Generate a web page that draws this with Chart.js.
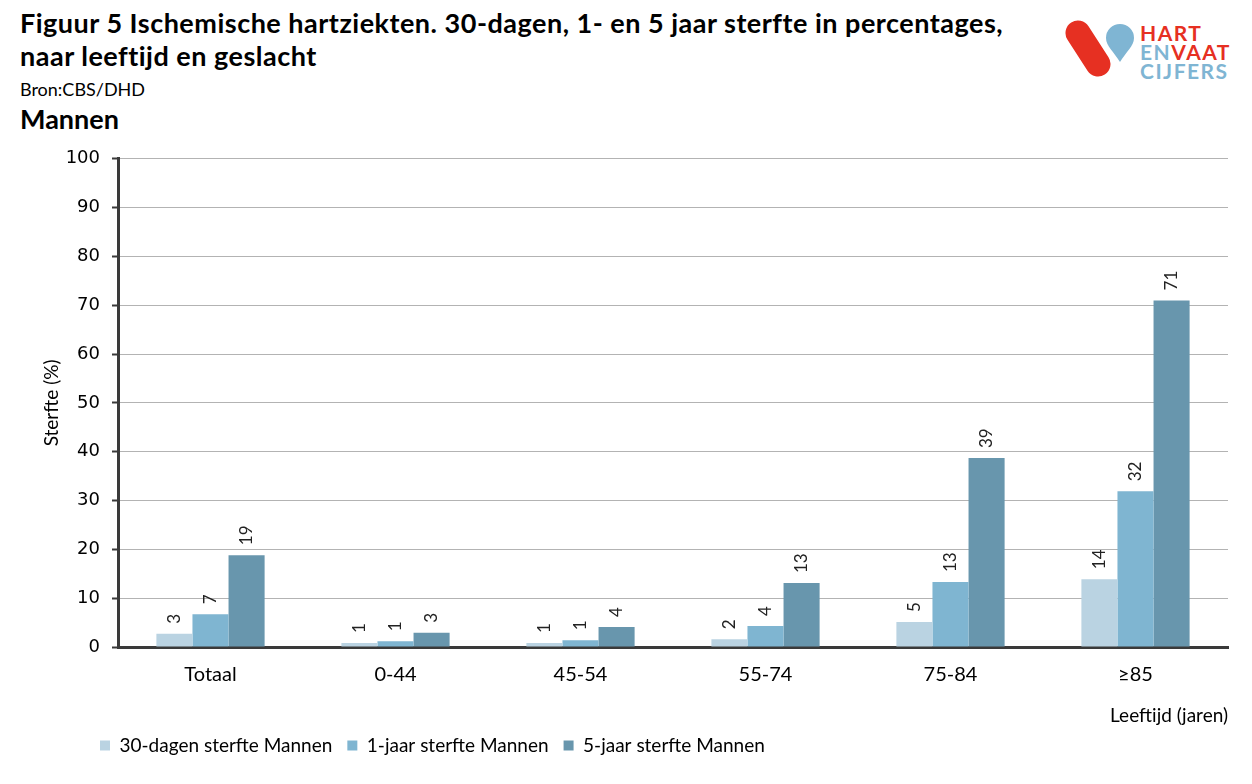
<!DOCTYPE html>
<html lang="nl">
<head>
<meta charset="utf-8">
<title>Ischemische hartziekten - sterfte mannen</title>
<script src="https://cdn.jsdelivr.net/npm/chart.js@4.4.1/dist/chart.umd.min.js"></script>
<style>
    body { margin: 0; width: 1252px; height: 784px; background: #fff; font-family: Lato, "Open Sans", sans-serif; color: #000; overflow: hidden; position: relative; }
    .titel { position: absolute; left: 20px; top: 6px; font-size: 27px; font-weight: 700; letter-spacing: 0.5px; line-height: 33px; white-space: nowrap; }
    .bron { position: absolute; left: 20px; top: 78px; font-size: 18px; }
    .sub { position: absolute; left: 20px; top: 102px; font-size: 27px; font-weight: 700; }
    .logo { position: absolute; left: 1064px; top: 18px; width: 188px; height: 62px; }
    .logo .woord { position: absolute; left: 76px; font-size: 21px; font-weight: 700; letter-spacing: 1.5px; line-height: 20px; }
    .rood { color: #e63022; }
    .blauw { color: #7fb5d3; }
    #grafiekWrap { position: absolute; left: 0; top: 136px; width: 1252px; height: 648px; }
</style>
</head>
<body>
<div class="titel">Figuur 5 Ischemische hartziekten. 30-dagen, 1- en 5 jaar sterfte in percentages,<br>naar leeftijd en geslacht</div>
<div class="bron">Bron:CBS/DHD</div>
<div class="sub">Mannen</div>

<div class="logo">
    <svg width="76" height="62" viewBox="0 0 76 62" style="position:absolute;left:0;top:0">
        <line x1="14" y1="15" x2="34" y2="46" stroke="#e63022" stroke-width="25" stroke-linecap="round"/>
        <path d="M56 44 C50 34 42 28 42 20 A14 14 0 0 1 70 20 C70 28 62 34 56 44 Z" fill="#7fb5d3"/>
    </svg>
    <div class="woord rood" style="top:5px">HART</div>
    <div class="woord" style="top:24px"><span class="blauw">EN</span><span class="rood">VAAT</span></div>
    <div class="woord blauw" style="top:43px">CIJFERS</div>
</div>

<div id="grafiekWrap"><canvas id="grafiek" width="1252" height="648"></canvas></div>

<script>
// Data
const categorieen = ['Totaal', '0-44', '45-54', '55-74', '75-84', '≥85'];
const dertigDagen = [2.7, 0.8, 0.8, 1.6, 5.1, 13.9];
const eenJaar = [6.7, 1.2, 1.4, 4.3, 13.3, 31.9];
const vijfJaar = [18.8, 2.9, 4.1, 13.1, 38.7, 71.0];
const reeksNamen = ['30-dagen sterfte Mannen', '1-jaar sterfte Mannen', '5-jaar sterfte Mannen'];
const yTicks = [0, 10, 20, 30, 40, 50, 60, 70, 80, 90, 100];

const kleuren = ['#bad3e2', '#7fb5d1', '#6896ad'];

// Waarden boven de staven, verticaal
const labelsPlugin = {
    id: 'staafLabels',
    afterDatasetsDraw(chart) {
        const ctx = chart.ctx;
        ctx.save();
        ctx.font = '17px Lato, sans-serif';
        ctx.fillStyle = '#222';
        ctx.textAlign = 'left';
        ctx.textBaseline = 'middle';
        chart.data.datasets.forEach((ds, i) => {
            const meta = chart.getDatasetMeta(i);
            meta.data.forEach((bar, j) => {
                const tekst = Math.round(ds.data[j]).toString();
                ctx.save();
                ctx.translate(bar.x, bar.y - 10);
                ctx.rotate(-Math.PI / 2);
                ctx.fillText(tekst, 0, 0);
                ctx.restore();
            });
        });
        ctx.restore();
    }
};

// Legenda naar rechts schuiven, zoals in het origineel
const legendaPlugin = {
    id: 'legendaVerschuiving',
    afterLayout(chart) {
        if (chart.legend) {
            chart.legend.left += 85;
            chart.legend.right += 85;
        }
    }
};

const datasets = [dertigDagen, eenJaar, vijfJaar].map((reeks, i) => ({
    label: reeksNamen[i],
    data: reeks,
    backgroundColor: kleuren[i],
    borderWidth: 0,
    categoryPercentage: 0.585,
    barPercentage: 1.0
}));

new Chart(document.getElementById('grafiek').getContext('2d'), {
    type: 'bar',
    data: { labels: categorieen, datasets: datasets },
    options: {
        responsive: false,
        animation: false,
        layout: { padding: { top: 14, right: 24, left: 0, bottom: 19 } },
        plugins: {
            legend: {
                position: 'bottom',
                align: 'start',
                labels: {
                    boxWidth: 10,
                    boxHeight: 10,
                    color: '#000',
                    font: { family: 'Lato, sans-serif', size: 19 },
                    padding: 15
                }
            },
            tooltip: { enabled: false }
        },
        scales: {
            x: {
                grid: {
                    offset: true,
                    drawOnChartArea: false,
                    drawTicks: false,
                    color: '#333'
                },
                border: { color: '#3a3a3a', width: 3 },
                ticks: {
                    color: '#000',
                    font: { family: 'Lato, sans-serif', size: 20 },
                    padding: 16
                },
                title: {
                    display: true,
                    text: 'Leeftijd (jaren)',
                    align: 'end',
                    color: '#000',
                    font: { family: 'Lato, sans-serif', size: 19 },
                    padding: { top: 18, bottom: -6 }
                },
                afterFit(scale) { scale.height = 74; }
            },
            y: {
                min: 0,
                max: 100,
                afterBuildTicks(scale) { scale.ticks = yTicks.map(v => ({ value: v })); },
                grid: {
                    color: '#b3b3b3',
                    lineWidth: 1,
                    tickLength: 6,
                    tickColor: '#3a3a3a',
                    tickWidth: 2
                },
                border: { color: '#3a3a3a', width: 3 },
                ticks: {
                    color: '#000',
                    font: { family: 'DejaVu Sans, sans-serif', size: 18 },
                    padding: 12
                },
                title: {
                    display: true,
                    text: 'Sterfte (%)',
                    color: '#000',
                    font: { family: 'Lato, sans-serif', size: 19 },
                    padding: { top: 40, bottom: 0 }
                },
                afterFit(scale) { scale.width = 118; }
            }
        }
    },
    plugins: [labelsPlugin, legendaPlugin]
});
</script>
</body>
</html>
